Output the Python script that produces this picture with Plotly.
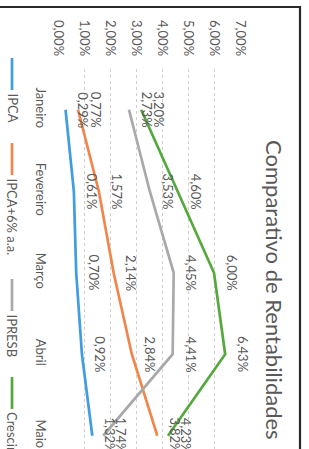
import plotly.graph_objects as go

# ---- data ----
months = ["Janeiro", "Fevereiro", "Março", "Abril", "Maio"]
ipca = [0.29, 0.61, 0.70, 0.92, 1.32]
ipca6 = [0.77, 1.57, 2.14, 2.84, 3.82]
ipresb = [2.73, 3.53, 4.45, 4.41, 1.74]
crescimento = [3.20, 4.60, 6.00, 6.43, 4.23]
series_names = ["IPCA", "IPCA+6% a.a.", "IPRESB", "Crescimento"]
legend_labels = ["IPCA", "IPCA+6% a.a.", "IPRESB", "Crescimento"]
tick_vals = [0, 1, 2, 3, 4, 5, 6, 7]
tick_text = ["0,00%", "1,00%", "2,00%", "3,00%", "4,00%", "5,00%", "6,00%", "7,00%"]
title_text = "Comparativo de Rentabilidades"

colors = ["#3f9de0", "#f0864c", "#a9a9a9", "#55a83c"]
series = [ipca, ipca6, ipresb, crescimento]

W, H = 309, 449
L, R, T, B = 58, 240, 69, 449
STEP = 81.5
def px_x(p):
    return (p - L) / (R - L)
def px_y(p):
    return (B - p) / (B - T)

FONT = "Lato, Carlito, 'Liberation Sans', sans-serif"
TXT = "#595959"

fig = go.Figure()
for name, vals, col in zip(series_names, series, colors):
    fig.add_trace(go.Scatter(x=vals, y=months, mode="lines", name=name,
                             line=dict(color=col, width=2.7), showlegend=False))

ann = []
# data labels (rotated, to the right of each point)
for vals in series:
    for m, v in zip(months, vals):
        ann.append(dict(x=v, y=m, xref="x", yref="y", text=f"{v:.2f}%".replace(".", ","),
                        textangle=90, showarrow=False, xshift=18, xanchor="center",
                        font=dict(family=FONT, size=13, color=TXT)))

# title (rotated)
ann.append(dict(x=px_x(275), y=px_y(290), xref="paper", yref="paper", text=title_text,
                textangle=90, showarrow=False, xanchor="center", yanchor="middle",
                font=dict(family=FONT, size=22, color=TXT)))

# custom rotated legend
leg_starts = [58, 143, 279, 377]
shapes = []
for lab, col, s in zip(legend_labels, colors, leg_starts):
    shapes.append(dict(type="line", xref="paper", yref="paper",
                       x0=px_x(12), x1=px_x(12), y0=px_y(s), y1=px_y(s + 32),
                       line=dict(color=col, width=2.7)))
    ann.append(dict(x=px_x(12), y=px_y(s + 33), xref="paper", yref="paper", text=lab,
                    textangle=90, showarrow=False, yanchor="top", xanchor="center",
                    font=dict(family=FONT, size=13, color=TXT)))

# chart border (top and right edges visible)
shapes.append(dict(type="line", xref="paper", yref="paper", x0=px_x(0), x1=px_x(301),
                   y0=px_y(7), y1=px_y(7), line=dict(color="#2a2a2a", width=2)))
shapes.append(dict(type="line", xref="paper", yref="paper", x0=px_x(300), x1=px_x(300),
                   y0=px_y(6), y1=0, line=dict(color="#2a2a2a", width=2.2)))

fig.update_layout(
    width=W, height=H,
    margin=dict(l=L, r=W - R, t=T, b=0),
    paper_bgcolor="white", plot_bgcolor="white",
    annotations=ann, shapes=shapes, showlegend=False,
    font=dict(family=FONT, size=13, color=TXT),
)
fig.update_xaxes(side="top", range=[0, 7], tickvals=tick_vals, ticktext=tick_text,
                 tickangle=90, showgrid=True, gridcolor="#cfcfcf", griddash="dot",
                 gridwidth=1, zeroline=False, showline=False, ticks="",
                 ticklabelstandoff=10,
                 tickfont=dict(family=FONT, size=13, color=TXT))
fig.update_yaxes(type="category", categoryorder="array", categoryarray=months,
                 range=[(B - T) / STEP - 0.5, -0.5], tickangle=90, showgrid=False,
                 zeroline=False, showline=False, ticks="",
                 ticklabelstandoff=8,
                 tickfont=dict(family=FONT, size=13, color=TXT))

fig.write_html("out.html", config={"displayModeBar": False},
               post_script="document.body.style.margin='0';document.body.style.padding='0';")
